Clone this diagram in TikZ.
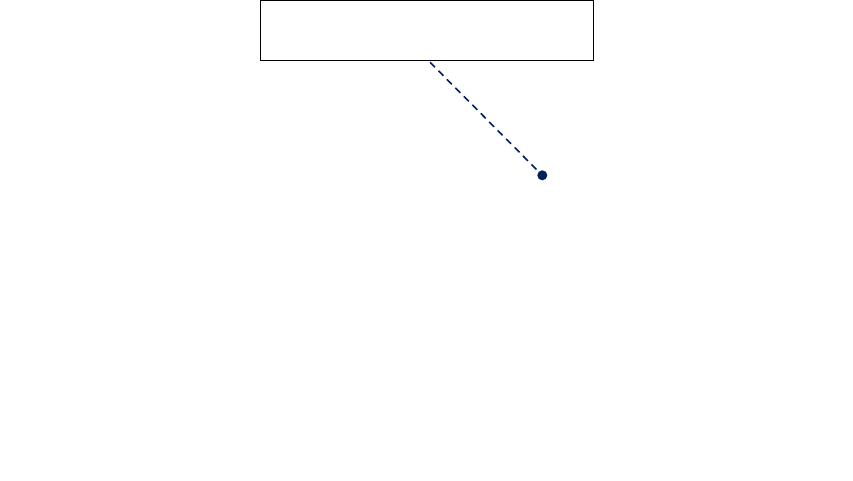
\documentclass[tikz,border=0pt]{standalone}
\usetikzlibrary{positioning}
\definecolor{navy}{RGB}{0,32,96}
\begin{document}
\begin{tikzpicture}[x=1pt, y=1pt,
  labelbox/.style={draw=black, line width=1pt, minimum width=333pt, minimum height=60pt, inner sep=0pt},
  pin dot/.style={circle, fill=navy, inner sep=0pt, minimum size=10pt},
  leader/.style={navy, line width=1.6pt, dash pattern=on 7pt off 5pt, shorten >=2pt}]
  \useasboundingbox (0,0) rectangle (853,480);

  % Callout box
  \node[labelbox] (callout) at (427, 449.5) {};

  % Marked point
  \node[pin dot] (point) at (542.3, 304.7) {};

  % Leader line
  \coordinate (leaderstart) at (430, 417.7);
  \draw[leader] (leaderstart) -- (point);
\end{tikzpicture}
\end{document}
